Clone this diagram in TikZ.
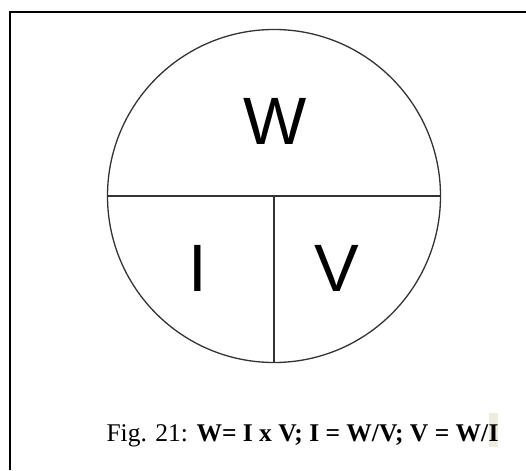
\documentclass[tikz,border=0pt]{standalone}
\usepackage{fontspec}
\setmainfont{Liberation Serif}
\newfontfamily\labelfont{Liberation Sans}
\usetikzlibrary{positioning}
\definecolor{ink}{HTML}{333333}
\definecolor{hilite}{HTML}{EEEBDF}

\begin{document}
\begin{tikzpicture}[x=1pt,y=-1pt]
  \useasboundingbox (0,0) rectangle (526,470);
  \tikzset{
    part/.style={line width=1.3pt, draw=ink},
    letter/.style={inner sep=0pt, font=\labelfont\fontsize{67}{67}\selectfont}
  }
  % page frame (only top and left edges are in view)
  \draw[line width=2.2pt] (10,470) -- (10,12) -- (526,12);

  % the triangle wheel
  \node[part, circle, minimum size=333pt, inner sep=0pt] (ring) at (274,196) {};
  \draw[part] (ring.west) -- (ring.east);
  \draw[part] (ring.center) -- (ring.south);

  \node[letter] (watt) at (275,121) {W};
  \node[letter] (amp) at (198,268) {I};
  \node[letter] (volt) at (337,268) {V};

  % caption
  \node[anchor=base, inner sep=0pt, font=\fontsize{25.5}{30}\selectfont] (caption) at (302.5,441)
    {Fig. 21: \textbf{W= I x V; I = W/V; V = W/}{\setlength\fboxsep{0pt}\colorbox{hilite}{\vrule height 28pt depth 6pt width 0pt\textbf{I}}}};
\end{tikzpicture}
\end{document}
